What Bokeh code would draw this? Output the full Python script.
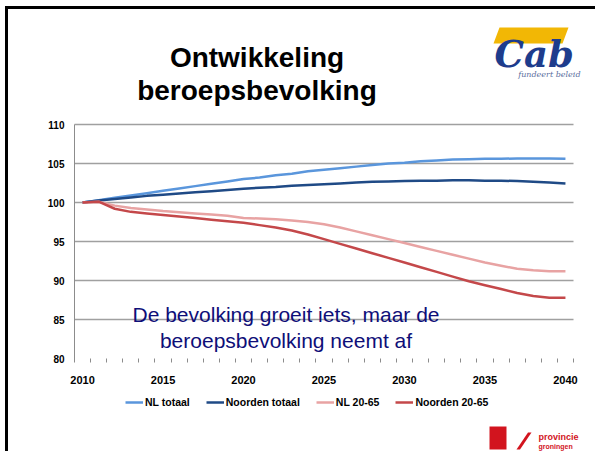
from bokeh.plotting import figure
from bokeh.models import (FixedTicker, Label, BoxAnnotation, PolyAnnotation, Legend, LegendItem,
                          Range1d, LinearAxis, Grid)
from bokeh.embed import file_html
from bokeh.resources import INLINE

years = list(range(2010, 2041))
nl_totaal = [100.0, 100.3, 100.6, 100.9, 101.2, 101.5, 101.8, 102.1, 102.4, 102.7,
             103.0, 103.2, 103.5, 103.7, 104.0, 104.2, 104.4, 104.6, 104.8, 105.0,
             105.1, 105.3, 105.4, 105.5, 105.55, 105.6, 105.6, 105.65, 105.65, 105.65, 105.6]
noorden_totaal = [100.0, 100.25, 100.45, 100.65, 100.85, 101.0, 101.15, 101.3, 101.45, 101.6,
                  101.75, 101.9, 102.0, 102.15, 102.25, 102.35, 102.45, 102.55, 102.65, 102.7,
                  102.75, 102.8, 102.8, 102.85, 102.85, 102.8, 102.8, 102.75, 102.65, 102.55, 102.45]
nl_2065 = [100.0, 100.1, 99.6, 99.3, 99.1, 98.9, 98.75, 98.6, 98.45, 98.3,
           98.0, 97.95, 97.85, 97.7, 97.5, 97.2, 96.8, 96.3, 95.8, 95.3,
           94.8, 94.3, 93.8, 93.3, 92.8, 92.3, 91.9, 91.5, 91.3, 91.2, 91.2]
noorden_2065 = [100.0, 100.1, 99.2, 98.8, 98.6, 98.4, 98.2, 98.0, 97.8, 97.6,
                97.4, 97.1, 96.8, 96.4, 95.9, 95.3, 94.7, 94.1, 93.5, 92.9,
                92.3, 91.7, 91.1, 90.5, 89.9, 89.4, 88.9, 88.4, 88.0, 87.8, 87.8]

series_names = ["NL totaal", "Noorden totaal", "NL 20-65", "Noorden 20-65"]
series_values = [nl_totaal, noorden_totaal, nl_2065, noorden_2065]
series_colors = ["#5A96DC", "#1F4A86", "#E8A3A3", "#C4484A"]

x_label_years = [2010, 2015, 2020, 2025, 2030, 2035, 2040]
y_ticks = [80, 85, 90, 95, 100, 105, 110]

title_lines = ["Ontwikkeling", "beroepsbevolking"]
note_lines = ["De bevolking groeit iets, maar de", "beroepsbevolking neemt af"]
logo_text = "Cab"
logo_sub = "fundeert beleid"
footer_lines = ["provincie", "groningen"]

# ---- layout (pixel coordinates of the picture) ----
W, H = 595, 451
FL, FR, FT, FB = 74, 573, 124, 358   # plot area edges
x_lo, x_hi = years[0] - 0.5, years[-1] + 0.5
y_lo, y_hi = y_ticks[0], y_ticks[-1]

sx = (FR - FL) / (x_hi - x_lo)
sy = (FB - FT) / (y_hi - y_lo)
xr = Range1d(x_lo - FL / sx, x_hi + (W - FR) / sx)
yr = Range1d(y_lo - (H - FB) / sy, y_hi + FT / sy)

p = figure(width=W, height=H, output_backend="svg", toolbar_location=None,
           x_range=xr, y_range=yr, x_axis_location=None, y_axis_location=None,
           min_border=0, styles={"margin-bottom": "-8px"})
p.outline_line_color = None
p.background_fill_color = "white"
p.center = [c for c in p.center if not isinstance(c, Grid)]

# horizontal gridlines (all but the bottom one)
grid_vals = y_ticks[1:]
p.segment(x0=[x_lo] * len(grid_vals), x1=[x_hi] * len(grid_vals), y0=grid_vals, y1=grid_vals,
          line_color="#A0A0A0", line_width=1.5)

# axes at fixed positions inside the frame
xax = LinearAxis(fixed_location=y_lo, bounds=(x_lo, x_hi),
                 ticker=FixedTicker(ticks=x_label_years, minor_ticks=[y + 0.5 for y in years]))
xax.axis_line_color = None
xax.major_tick_line_color = None
xax.major_tick_out = 0
xax.major_tick_in = 0
xax.minor_tick_line_color = "#8C8C8C"
xax.minor_tick_out = 4
xax.minor_tick_in = 0
xax.major_label_standoff = 13
xax.major_label_text_font = "Liberation Sans"
xax.major_label_text_font_style = "bold"
xax.major_label_text_font_size = "11px"
xax.major_label_text_color = "black"
p.add_layout(xax, "below")

yax = LinearAxis(fixed_location=x_lo, bounds=(y_lo - 0.5, y_hi), ticker=FixedTicker(ticks=y_ticks))
yax.axis_line_color = "#8C8C8C"
yax.major_tick_line_color = None
yax.minor_tick_line_color = None
yax.major_tick_out = 0
yax.major_tick_in = 0
yax.major_label_standoff = 10
yax.major_label_text_font = "Liberation Sans"
yax.major_label_text_font_style = "bold"
yax.major_label_text_font_size = "10px"
yax.major_label_text_color = "black"
p.add_layout(yax, "left")

items = []
for name, vals, col in zip(series_names, series_values, series_colors):
    r = p.line(years, vals, line_color=col, line_width=2.5)
    items.append(LegendItem(label=name, renderers=[r]))

legend = Legend(items=items, location=(125, H - 408), orientation="horizontal",
                spacing=16, label_standoff=2, glyph_width=18, glyph_height=12,
                label_height=12, padding=0, margin=0, border_line_color=None,
                background_fill_alpha=0, label_text_font="Liberation Sans",
                label_text_font_style="bold", label_text_font_size="10.5px",
                label_text_color="black")
p.add_layout(legend)

def box(l, r, t, b, color):
    p.add_layout(BoxAnnotation(left=l, right=r, top=t, bottom=b,
                               left_units="canvas", right_units="canvas",
                               top_units="canvas", bottom_units="canvas",
                               fill_color=color, fill_alpha=1, line_color=None, level="overlay"))

def poly(xs, ys, color):
    p.add_layout(PolyAnnotation(xs=xs, ys=ys, xs_units="canvas", ys_units="canvas",
                                fill_color=color, fill_alpha=1, line_color=None))

def label(x, y, text, **kw):
    p.add_layout(Label(x=x, y=y, x_units="canvas", y_units="canvas", text=text,
                       text_baseline="alphabetic", **kw))

# slide border (left and top edges)
box(4.5, 7.5, 5.5, H, "black")
box(4.5, W, 5.5, 8.5, "black")

# title
for txt, yb in zip(title_lines, [56.5, 90]):
    label(256.5, yb, txt, text_align="center", text_font="Liberation Sans",
          text_font_style="bold", text_font_size="28px", text_color="black")

# note
for txt, yb in zip(note_lines, [313.5, 339.5]):
    label(285.5, yb, txt, text_align="center", text_font="Liberation Sans",
          text_font_size="21px", text_color="#0E0E78")

# cab logo
poly([499, 568, 562, 493], [27, 27, 43, 43], "#F2B705")
label(494, 53, logo_text, text_font="DejaVu Serif", text_font_style="bold italic",
      text_font_size="37px", text_color="#1E3C8C")
label(580, 74, logo_sub, text_align="right", text_font="DejaVu Serif",
      text_font_style="italic", text_font_size="8px", text_color="#5A6E9E")

# provincie logo
box(489, 506, 426, 449, "#D2141E")
poly([516, 519.5, 531, 527.5], [449, 449, 432, 432], "#D2141E")
label(538, 436, footer_lines[0], text_font="Liberation Sans", text_font_style="bold",
      text_font_size="9px", text_color="#D2141E")
label(538, 446, footer_lines[1], text_font="Liberation Sans", text_font_style="bold",
      text_font_size="7px", text_color="#D2141E")

open("out.html", "w").write(file_html(p, INLINE))
